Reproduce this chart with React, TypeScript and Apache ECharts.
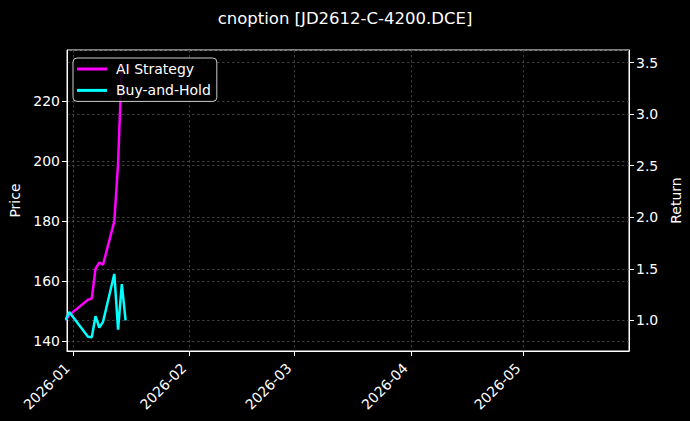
import { useEffect, useRef } from 'react';
import * as echarts from 'echarts';

// trading days shown in the chart
const tradeDates = [
  '2025-12-30', '2025-12-31', '2026-01-05', '2026-01-06', '2026-01-07', '2026-01-08',
  '2026-01-09', '2026-01-12', '2026-01-13', '2026-01-14', '2026-01-15',
];
// cumulative return (right axis)
const aiStrategy = [1.0, 1.05, 1.2, 1.21, 1.5, 1.56, 1.54, 1.96, 2.52, 3.49];
const buyAndHold = [1.0, 1.08, 0.84, 0.835, 1.04, 0.93, 0.985, 1.45, 0.91, 1.35, 1.0];

const priceRange = [136.7, 237.0];
const returnRange = [0.702, 3.623];
const dateRange = ['2025-12-30 09:40', '2026-05-29 01:00'];

const FONT = "'DejaVu Sans', sans-serif";
const GRID_LINE = { show: true, lineStyle: { color: '#4d4d4d', width: 0.8, type: [2.5, 2.5] as number[] } };

function monthLabel(v: number) {
  const d = new Date(v);
  return `${d.getFullYear()}-${String(d.getMonth() + 1).padStart(2, '0')}`;
}

export default function App() {
  const chartRef = useRef<HTMLDivElement>(null);

  useEffect(() => {
    if (!chartRef.current) return;
    const chart = echarts.init(chartRef.current, null, { renderer: 'svg' });

    const option = {
      animation: false,
      backgroundColor: '#000',
      textStyle: { fontFamily: FONT, color: '#fff' },
      title: {
        text: 'cnoption [JD2612-C-4200.DCE]',
        left: 'center',
        top: 5,
        textStyle: { color: '#fff', fontSize: 16.5, fontWeight: 'normal', fontFamily: FONT },
      },
      grid: {
        left: 67, right: 61, top: 50, bottom: 70,
        show: true, borderColor: '#fff', borderWidth: 1, backgroundColor: 'transparent',
        outerBoundsMode: 'none',
      },
      legend: {
        left: 73, top: 58,
        orient: 'vertical',
        icon: 'rect',
        itemWidth: 30, itemHeight: 3, itemGap: 7.4,
        padding: [4, 6, 4, 4],
        backgroundColor: 'rgba(0,0,0,0.85)',
        borderColor: '#ccc', borderWidth: 1, borderRadius: 4,
        textStyle: { color: '#fff', fontSize: 14, lineHeight: 14, fontFamily: FONT, padding: [0, 0, 0, 4] },
        data: ['AI Strategy', 'Buy-and-Hold'],
      },
      xAxis: {
        type: 'time',
        min: dateRange[0],
        max: dateRange[1],
        axisLine: { show: true, lineStyle: { color: '#fff' } },
        axisTick: { show: true, length: 5, lineStyle: { color: '#fff' } },
        axisLabel: {
          color: '#fff', fontSize: 14, fontFamily: FONT, rotate: 45, margin: 9,
          padding: [0, 8, 0, 0],
          formatter: monthLabel, hideOverlap: false,
        },
        splitLine: GRID_LINE,
      },
      yAxis: [
        {
          type: 'value',
          name: 'Price',
          nameLocation: 'middle',
          nameGap: 41,
          nameTextStyle: { color: '#fff', fontSize: 14, fontFamily: FONT },
          min: priceRange[0],
          max: priceRange[1],
          splitNumber: 5,
          axisLine: { show: true, lineStyle: { color: '#fff' } },
          axisTick: { show: true, length: 5, lineStyle: { color: '#fff' } },
          axisLabel: {
            color: '#fff', fontSize: 14, fontFamily: FONT, margin: 7,
            showMinLabel: false, showMaxLabel: false,
            formatter: (v: number) => String(Math.round(v)),
          },
          splitLine: GRID_LINE,
        },
        {
          type: 'value',
          name: 'Return',
          nameLocation: 'middle',
          nameGap: 34,
          nameTextStyle: { color: '#fff', fontSize: 14, fontFamily: FONT },
          position: 'right',
          min: returnRange[0],
          max: returnRange[1],
          splitNumber: 5,
          axisLine: { show: true, lineStyle: { color: '#fff' } },
          axisTick: { show: true, length: 5, lineStyle: { color: '#fff' } },
          axisLabel: {
            color: '#fff', fontSize: 14, fontFamily: FONT, margin: 7,
            showMinLabel: false, showMaxLabel: false,
            formatter: (v: number) => v.toFixed(1),
          },
          splitLine: GRID_LINE,
        },
      ],
      series: [
        {
          name: 'AI Strategy',
          type: 'line',
          yAxisIndex: 1,
          symbol: 'none',
          color: '#ff00ff',
          lineStyle: { width: 2.5, color: '#ff00ff' },
          data: aiStrategy.map((v, i) => [tradeDates[i], v]),
        },
        {
          name: 'Buy-and-Hold',
          type: 'line',
          yAxisIndex: 1,
          symbol: 'none',
          color: '#00ffff',
          lineStyle: { width: 2.5, color: '#00ffff' },
          data: buyAndHold.map((v, i) => [tradeDates[i], v]),
        },
      ],
    };

    chart.setOption(option as echarts.EChartsOption);
    return () => chart.dispose();
  }, []);

  return (
    <div
      ref={chartRef}
      style={{ position: 'fixed', left: 0, top: 0, width: 690, height: 421 }}
    />
  );
}
